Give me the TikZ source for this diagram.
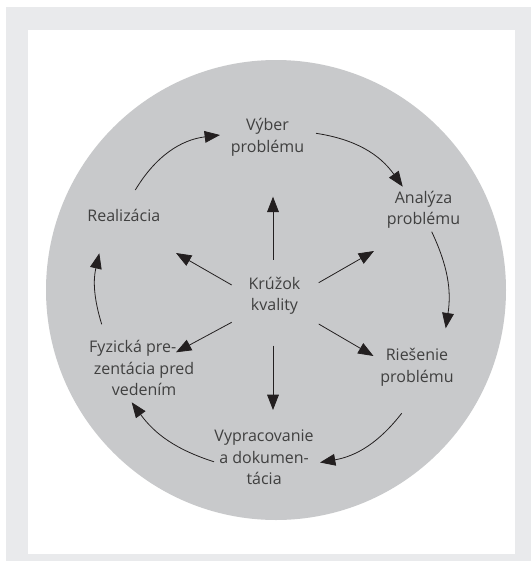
\documentclass[tikz,border=0pt]{standalone}
\usepackage{fontspec}
\setmainfont{Open Sans}
\usetikzlibrary{arrows.meta}
\definecolor{pagebg}{RGB}{233,234,236}
\definecolor{disc}{RGB}{200,201,203}
\definecolor{ink}{RGB}{64,64,64}
\definecolor{arrowink}{RGB}{35,31,32}

\begin{document}
\begin{tikzpicture}[x=0.75pt,y=-0.75pt,
  txt/.style={align=center, inner sep=0pt, text=ink, font=\fontsize{12}{16}\selectfont},
  flow/.style={draw=arrowink, line width=0.6pt, -{Triangle[length=11.5pt,width=8.8pt]}},
]
\useasboundingbox (0,0) rectangle (531,561);
% frame and disc
\fill[pagebg] (6,7) rectangle (531,561);
\fill[white] (28,30) rectangle (515,553.5);
\fill[disc] (276,290) circle[radius=230];

% labels
\node[txt] (vyber) at (267.5,137.4) {Výber\\problému};
\node[txt] (analyza) at (423.5,209.5) {Analýza\\problému};
\node[txt] (realizacia) at (123.8,215) {Realizácia};
\node[txt] (kruzok) at (274.5,296) {Krúžok\\kvality};
\node[txt] (riesenie) at (417,367.2) {Riešenie\\problému};
\node[txt] (vypracovanie) at (264.1,457.4) {Vypracovanie\\a dokumen-\\tácia};
\node[txt] (fyzicka) at (144.1,368) {Fyzická pre-\hspace*{17pt}\\zentácia pred\\vedením};

% radial arrow ends
\coordinate (kN)  at (273,259.6);   \coordinate (tN)  at (273,196.7);
\coordinate (kNW) at (231.7,285);   \coordinate (tNW) at (176,253);
\coordinate (kNE) at (318.7,282.7); \coordinate (tNE) at (374,251);
\coordinate (kSW) at (231.7,322.3); \coordinate (tSW) at (176,352.3);
\coordinate (kSE) at (318.7,324);   \coordinate (tSE) at (373.5,356);
\coordinate (kS)  at (273,345.7);   \coordinate (tS)  at (273,410);

\draw[flow] (kN) -- (tN);
\draw[flow] (kNW) -- (tNW);
\draw[flow] (kNE) -- (tNE);
\draw[flow] (kSW) -- (tSW);
\draw[flow] (kSE) -- (tSE);
\draw[flow] (kS) -- (tS);

% cycle arrow ends
\coordinate (c1s) at (135.3,190);   \coordinate (c1e) at (220,135);
\coordinate (c2s) at (316,133.3);   \coordinate (c2e) at (402.7,186.7);
\coordinate (c3s) at (431.7,231.7); \coordinate (c3e) at (445.7,328.3);
\coordinate (c4s) at (401.7,413.3); \coordinate (c4e) at (320,462.5);
\coordinate (c5s) at (214,461.8);   \coordinate (c5e) at (131.7,402.3);
\coordinate (c6s) at (101.7,324.3); \coordinate (c6e) at (99.3,253.3);

\draw[flow] (c1s) to[bend left=26] (c1e);
\draw[flow] (c2s) to[bend left=23] (c2e);
\draw[flow] (c3s) to[bend left=17] (c3e);
\draw[flow] (c4s) to[bend left=21] (c4e);
\draw[flow] (c5s) to[bend left=18] (c5e);
\draw[flow] (c6s) to[bend left=15] (c6e);
\end{tikzpicture}
\end{document}
